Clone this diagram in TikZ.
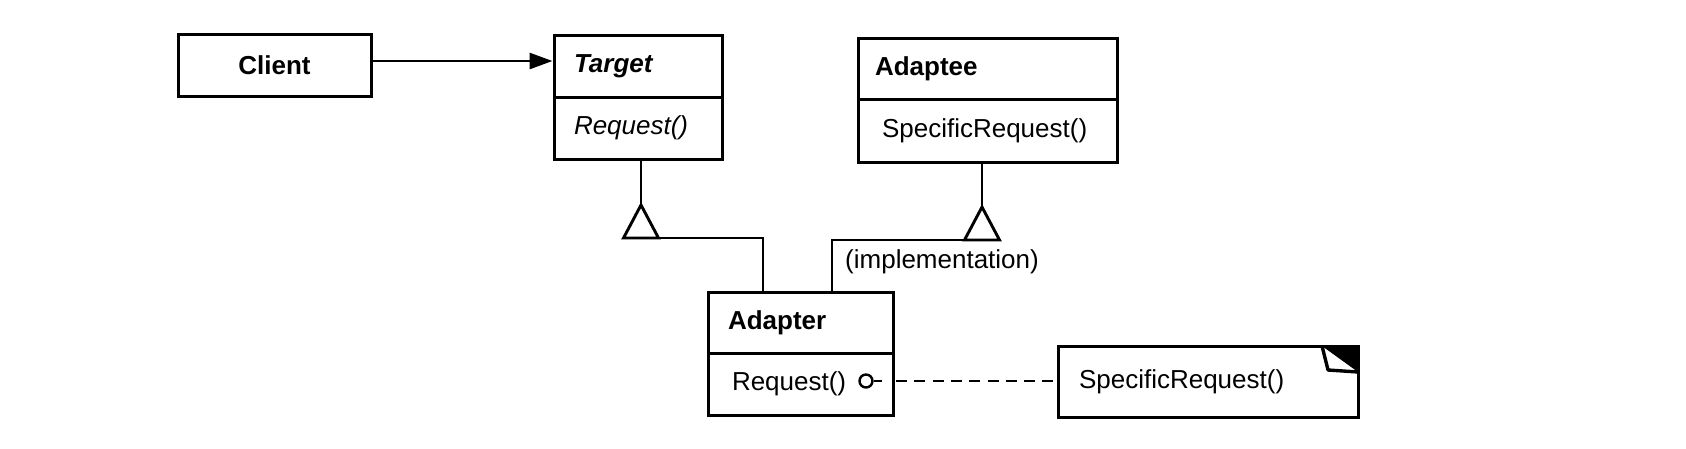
\documentclass[tikz,border=0pt]{standalone}
\usepackage{fontspec}
\setmainfont{Liberation Sans}
\usetikzlibrary{arrows.meta}
\begin{document}
\begin{tikzpicture}[x=1pt,y=-1pt,
  ln/.style={line width=2.9pt},
  cls/.style={draw, line width=3pt, outer sep=0pt, anchor=north west, inner ysep=0pt, align=left,
    font=\fontsize{26}{30}\selectfont},
]
\useasboundingbox (0,0) rectangle (1686,448);
\fill[white] (0,0) rectangle (1686,448);

% Client
\node[cls, inner xsep=0pt, text width=193pt, align=center, minimum height=62pt] (client) at (178,34) {\bfseries Client};

% Target
\node[cls, inner xsep=20pt, text width=128pt, minimum height=62pt] (target) at (554,35) {\bfseries\itshape Target};
\node[cls, inner xsep=20pt, text width=128pt, minimum height=62pt] (targetop) at (target.south west) {\itshape Request()};

% Adaptee
\node[cls, inner xsep=17pt, text width=225pt, minimum height=61pt] (adaptee) at (858,38) {\bfseries Adaptee};
\node[cls, inner xsep=24pt, text width=211pt, minimum height=63pt] (adapteeop) at (adaptee.south west) {SpecificRequest()};

% Adapter
\node[cls, inner xsep=20pt, text width=145pt, minimum height=61pt] (adapter) at (708,292) {\bfseries Adapter};
\node[cls, inner xsep=24pt, text width=137pt, minimum height=62pt] (adapterop) at (adapter.south west) {Request()};

% Note
\node[cls, inner xsep=21pt, text width=258pt, minimum height=71pt] (note) at (1058,346) {SpecificRequest()};
\fill[black] (1322,346) -- (1358,346) -- (1358,372) -- cycle;
\draw[line width=3.4pt, line join=round] (1322,346) -- (1328,370) -- (1358,372);

% Client -> Target
\draw[ln, -{Triangle[length=23pt,width=16pt]}] ([yshift=4pt]client.east) -- ([yshift=4pt,xshift=-1.5pt]client.east -| target.west);

% Target <|-- Adapter
\coordinate (tApex) at (641,205);
\coordinate (tBaseL) at (623.5,238);
\coordinate (tBaseR) at (658.5,238);
\coordinate (aL) at (763,238);
\draw[ln] (tApex |- targetop.south) -- (tApex);
\draw[ln, line join=miter] (tApex) -- (tBaseR) -- (tBaseL) -- cycle;
\draw[ln] (tBaseR) -- (aL) -- (aL |- adapter.north);

% Adaptee <|-- Adapter
\coordinate (sApex) at (982,207);
\coordinate (sBaseL) at (964.5,240);
\coordinate (sBaseR) at (999.5,240);
\coordinate (aR) at (832,240);
\draw[ln] (sApex |- adapteeop.south) -- (sApex);
\draw[ln, line join=miter] (sApex) -- (sBaseR) -- (sBaseL) -- cycle;
\draw[ln] (sBaseL) -- (aR) -- (aR |- adapter.north);
\node[anchor=west, inner sep=0pt, font=\fontsize{26}{30}\selectfont] (impl) at (845,262) {(implementation)};

% Request() o- - - note
\node[draw, circle, line width=2.4pt, minimum size=13pt, inner sep=0pt] (circ) at (866,381) {};
\coordinate (cend) at (882,381);
\coordinate (dstart) at (896,381);
\draw[ln] (circ) -- (cend);
\draw[ln, dash pattern=on 11pt off 7.3pt] (dstart) -- (dstart -| note.west);
\end{tikzpicture}
\end{document}
